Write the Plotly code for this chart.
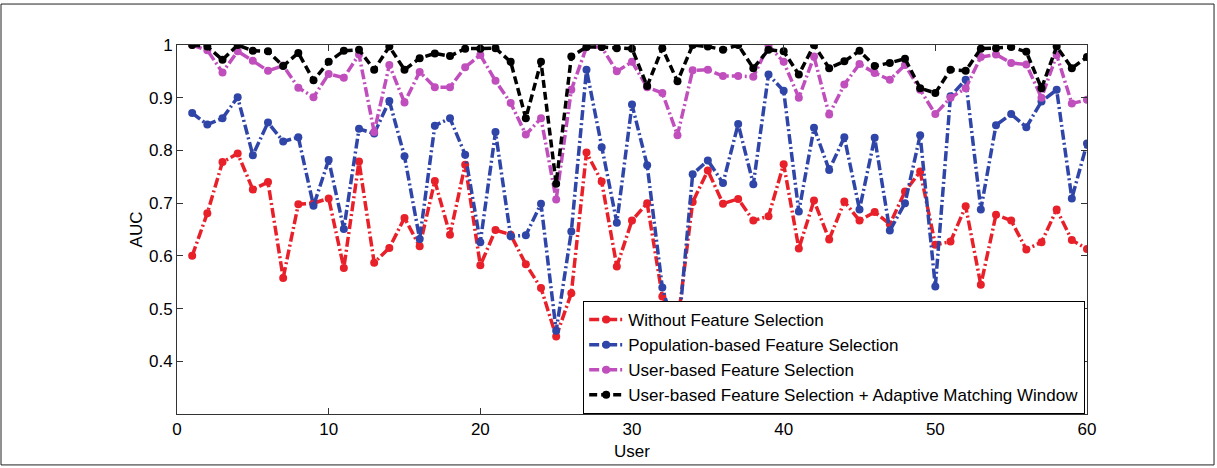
import plotly.graph_objects as go

users = list(range(1, 61))

without_fs = [0.600, 0.681, 0.778, 0.794, 0.726, 0.740, 0.558, 0.698, 0.700, 0.709,
              0.577, 0.779, 0.587, 0.615, 0.672, 0.618, 0.742, 0.640, 0.773, 0.582,
              0.649, 0.640, 0.584, 0.539, 0.447, 0.529, 0.796, 0.741, 0.580, 0.667,
              0.700, 0.523, 0.470, 0.702, 0.762, 0.699, 0.708, 0.667, 0.675, 0.774,
              0.614, 0.705, 0.631, 0.703, 0.667, 0.683, 0.660, 0.722, 0.760, 0.621,
              0.627, 0.694, 0.545, 0.678, 0.667, 0.612, 0.626, 0.688, 0.630, 0.613]

population_fs = [0.871, 0.849, 0.861, 0.901, 0.791, 0.853, 0.817, 0.825, 0.695, 0.782,
                 0.651, 0.841, 0.832, 0.894, 0.789, 0.632, 0.847, 0.861, 0.792, 0.626,
                 0.835, 0.637, 0.639, 0.699, 0.458, 0.646, 0.953, 0.806, 0.663, 0.887,
                 0.772, 0.540, 0.440, 0.755, 0.781, 0.738, 0.850, 0.736, 0.944, 0.913,
                 0.684, 0.843, 0.763, 0.825, 0.688, 0.824, 0.648, 0.700, 0.829, 0.542,
                 0.903, 0.934, 0.688, 0.848, 0.869, 0.844, 0.893, 0.915, 0.709, 0.813]

user_fs = [1.000, 0.990, 0.948, 0.988, 0.970, 0.951, 0.961, 0.919, 0.901, 0.945,
           0.938, 0.982, 0.835, 0.962, 0.891, 0.949, 0.920, 0.920, 0.958, 0.981,
           0.932, 0.890, 0.830, 0.861, 0.707, 0.915, 0.996, 0.996, 0.950, 0.968,
           0.920, 0.909, 0.829, 0.952, 0.953, 0.941, 0.941, 0.940, 0.999, 0.968,
           0.900, 0.978, 0.868, 0.925, 0.964, 0.947, 0.934, 0.962, 0.915, 0.869,
           0.900, 0.918, 0.977, 0.982, 0.966, 0.963, 0.900, 0.981, 0.889, 0.896]

user_fs_amw = [1.000, 0.997, 0.972, 1.000, 0.989, 0.988, 0.960, 0.985, 0.933, 0.968,
               0.989, 0.991, 0.953, 0.997, 0.953, 0.975, 0.984, 0.979, 0.993, 0.993,
               0.994, 0.968, 0.861, 0.968, 0.737, 0.978, 0.996, 0.996, 0.994, 0.993,
               0.922, 0.994, 0.931, 1.000, 0.997, 0.991, 1.000, 0.956, 0.991, 0.988,
               0.944, 1.000, 0.956, 0.969, 0.989, 0.960, 0.966, 0.974, 0.918, 0.909,
               0.953, 0.951, 0.993, 0.994, 0.996, 0.987, 0.918, 0.997, 0.956, 0.977]

series = [
    ("Without Feature Selection", without_fs, "#e8202a", "10px,3px,2px,3px"),
    ("Population-based Feature Selection", population_fs, "#2f45a8", "10px,3px,2px,3px"),
    ("User-based Feature Selection", user_fs, "#c04fbd", "10px,3px,2px,3px"),
    ("User-based Feature Selection + Adaptive Matching Window", user_fs_amw, "#000000", "8px,4px"),
]

fig = go.Figure()
for name, vals, color, dash in series:
    fig.add_trace(go.Scatter(
        x=users, y=vals, name=name, mode="lines+markers",
        line=dict(color=color, width=3.5, dash=dash),
        marker=dict(color=color, size=8, symbol="circle"),
    ))

axis_font = dict(family="Liberation Sans, Arial, sans-serif", size=17, color="#000000")

# thin frame around the whole figure
fig.add_shape(type="rect", xref="paper", yref="paper",
              x0=-0.1934, x1=1.1396, y0=-0.138, y1=1.111,
              line=dict(color="#222222", width=1), layer="below")

fig.update_layout(
    width=1217, height=468,
    margin=dict(l=177, r=130, t=45, b=54),
    paper_bgcolor="white", plot_bgcolor="white",
    font=axis_font,
    showlegend=True,
    legend=dict(
        x=0.998, y=0.0, xanchor="right", yanchor="bottom",
        bgcolor="white", bordercolor="#000000", borderwidth=1,
        font=dict(family="Liberation Sans, Arial, sans-serif", size=17, color="#000000"),
        tracegroupgap=0, itemwidth=34,
    ),
    xaxis=dict(
        range=[0, 60], tickvals=[0, 10, 20, 30, 40, 50, 60],
        ticks="inside", ticklen=6, tickcolor="#333333",
        showline=True, linecolor="#333333", linewidth=1, mirror="ticks",
        showgrid=False, zeroline=False,
        title=dict(text="User", font=axis_font, standoff=6),
        tickfont=axis_font,
    ),
    yaxis=dict(
        range=[0.3, 1.0], tickvals=[0.4, 0.5, 0.6, 0.7, 0.8, 0.9, 1.0],
        ticktext=["0.4", "0.5", "0.6", "0.7", "0.8", "0.9", "1"],
        ticks="inside", ticklen=6, tickcolor="#333333",
        showline=True, linecolor="#333333", linewidth=1, mirror="ticks",
        showgrid=False, zeroline=False,
        title=dict(text="AUC", font=axis_font, standoff=2),
        tickfont=axis_font,
    ),
)

fig.write_html("out.html")
